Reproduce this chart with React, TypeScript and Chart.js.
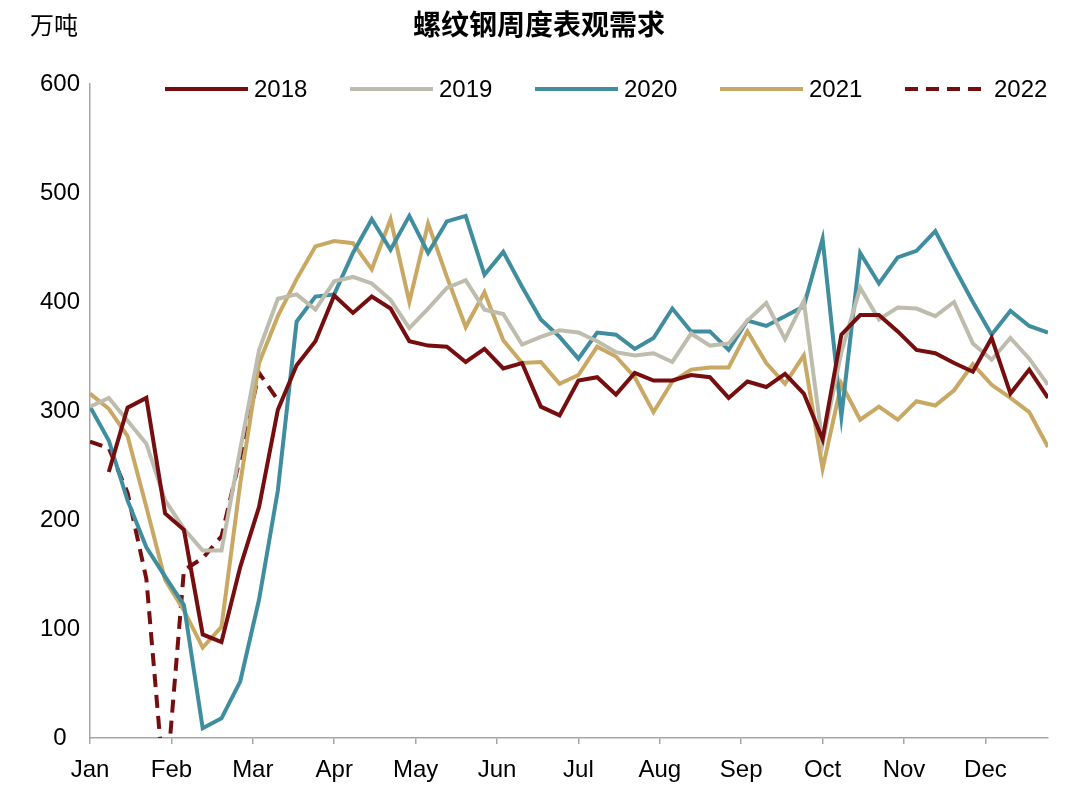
import { useEffect, useRef } from "react";
import { Chart, registerables } from "chart.js";

Chart.register(...registerables);

// ---- data ----
const TITLE = "螺纹钢周度表观需求";
const UNIT = "万吨";
const MONTHS = ["Jan", "Feb", "Mar", "Apr", "May", "Jun", "Jul", "Aug", "Sep", "Oct", "Nov", "Dec"];
const WEEKS_IN_YEAR = 52;
const Y_MIN = 0;
const Y_MAX = 600;
const Y_STEP = 100;

const YEARS = ["2018", "2019", "2020", "2021", "2022"];

const D2018 = [null, 244, 303, 312, 206, 191, 95, 88, 157, 212, 301, 342, 364, 406, 390, 405, 394, 364, 360, 359, 345, 357, 339, 344, 304, 296, 328, 331, 315, 335, 328, 328, 333, 331, 312, 327, 322, 334, 316, 274, 370, 388, 388, 373, 356, 353, 344, 336, 367, 316, 338, 312];
const D2019 = [304, 312, 291, 270, 218, 192, 172, 172, 265, 356, 403, 407, 393, 419, 423, 417, 402, 376, 394, 413, 420, 393, 389, 361, 368, 374, 372, 364, 354, 351, 353, 345, 371, 360, 362, 383, 399, 366, 401, 270, 354, 413, 384, 395, 394, 387, 400, 362, 347, 367, 348, 324];
const D2020 = [304, 273, 218, 175, 148, 122, 9, 18, 52, 127, 227, 382, 405, 407, 445, 476, 448, 479, 445, 474, 479, 425, 446, 414, 384, 368, 348, 372, 370, 357, 367, 394, 373, 373, 356, 383, 378, 387, 396, 458, 295, 445, 417, 441, 447, 465, 432, 400, 370, 392, 378, 372];
const D2021 = [316, 302, 277, 212, 145, 117, 83, 102, 234, 344, 387, 421, 451, 456, 454, 430, 476, 400, 472, 423, 377, 409, 365, 344, 345, 325, 333, 359, 350, 331, 299, 327, 338, 340, 340, 373, 344, 325, 351, 247, 325, 292, 304, 292, 309, 305, 319, 343, 324, 312, 299, 267];
const D2022 = [272, 266, 225, 146, -55, 154, 165, 185, 258, 335, 310];

const SERIES_DATA = [D2018, D2019, D2020, D2021, D2022];

// ---- styles ----
const COLORS = ["#760D0E", "#BDBCAD", "#3F8D9E", "#C8A862", "#760D0E"];
const DASHES: number[][] = [[], [], [], [], [13, 8]];
const LINE_W = 4;
const AXIS_COLOR = "#A6A6A6";
const FONT = '"Liberation Sans", Arial, sans-serif';
const CJK = '"Noto Sans CJK SC", sans-serif';

const W = 1080;
const H = 794;
const AREA_LEFT = 90;
const AREA_TOP = 84;
const AREA_RIGHT = 1048;
const AREA_BOTTOM = 738;

const LEGEND_X0 = 165;
const LEGEND_STEP = 185;
const LEGEND_LINE = 83;
const LEGEND_Y = 89;

const overlayPlugin = {
  id: "overlay",
  afterDraw(chart: any) {
    const ctx = chart.ctx as CanvasRenderingContext2D;
    ctx.save();
    ctx.fillStyle = "#000";
    ctx.textBaseline = "middle";
    ctx.textAlign = "center";
    ctx.font = `bold 28px ${CJK}`;
    ctx.fillText(TITLE, 539, 24);
    ctx.textAlign = "left";
    ctx.font = `24px ${CJK}`;
    ctx.fillText(UNIT, 30, 25);

    chart.data.datasets.forEach((ds: any, k: number) => {
      const x0 = LEGEND_X0 + k * LEGEND_STEP;
      ctx.beginPath();
      ctx.strokeStyle = ds.borderColor;
      ctx.lineWidth = LINE_W;
      ctx.setLineDash(ds.borderDash || []);
      ctx.moveTo(x0, LEGEND_Y);
      ctx.lineTo(x0 + LEGEND_LINE, LEGEND_Y);
      ctx.stroke();
      ctx.setLineDash([]);
      ctx.fillStyle = "#000";
      ctx.font = `24px ${FONT}`;
      ctx.textAlign = "left";
      ctx.fillText(ds.label, x0 + LEGEND_LINE + 6, LEGEND_Y + 1);
    });
    ctx.restore();
  },
};

export default function App() {
  const ref = useRef<HTMLCanvasElement | null>(null);

  useEffect(() => {
    if (!ref.current) return;
    const datasets = YEARS.map((year, k) => ({
      label: year,
      data: SERIES_DATA[k].map((v, i) => ({ x: i, y: v })),
      borderColor: COLORS[k],
      backgroundColor: COLORS[k],
      borderWidth: LINE_W,
      borderDash: DASHES[k],
      pointRadius: 0,
      pointHoverRadius: 0,
      tension: 0,
      fill: false,
      spanGaps: false,
    }));

    const chart = new Chart(ref.current, {
      type: "line",
      data: { datasets },
      options: {
        animation: false,
        responsive: false,
        devicePixelRatio: 1,
        layout: {
          padding: { top: AREA_TOP, right: W - AREA_RIGHT, bottom: 0, left: 0 },
        },
        plugins: {
          legend: { display: false },
          title: { display: false },
          tooltip: { enabled: false },
        },
        scales: {
          x: {
            type: "linear",
            min: 0,
            max: WEEKS_IN_YEAR - 1,
            afterBuildTicks: (scale: any) => {
              scale.ticks = MONTHS.map((_, k) => ({ value: (k * WEEKS_IN_YEAR) / 12 }));
            },
            afterFit: (scale: any) => {
              scale.height = H - AREA_BOTTOM;
            },
            grid: {
              display: true,
              drawOnChartArea: false,
              drawTicks: true,
              tickLength: 6,
              color: AXIS_COLOR,
              lineWidth: 1.5,
            },
            border: { display: true, color: AXIS_COLOR, width: 1.5 },
            ticks: {
              autoSkip: false,
              maxRotation: 0,
              padding: 12,
              color: "#000",
              font: { size: 24, family: FONT },
              callback: (_v: any, index: number) => MONTHS[index],
            },
          },
          y: {
            min: Y_MIN,
            max: Y_MAX,
            afterFit: (scale: any) => {
              scale.width = AREA_LEFT;
            },
            grid: { display: false, drawTicks: false },
            border: { display: true, color: AXIS_COLOR, width: 1.5 },
            ticks: {
              stepSize: Y_STEP,
              crossAlign: "center",
              padding: 10,
              color: "#000",
              font: { size: 24, family: FONT },
            },
          },
        },
      },
      plugins: [overlayPlugin],
    } as any);

    return () => chart.destroy();
  }, []);

  return (
    <div style={{ position: "fixed", left: 0, top: 0, width: W, height: H, background: "#fff" }}>
      <canvas ref={ref} width={W} height={H} style={{ display: "block" }} />
    </div>
  );
}
